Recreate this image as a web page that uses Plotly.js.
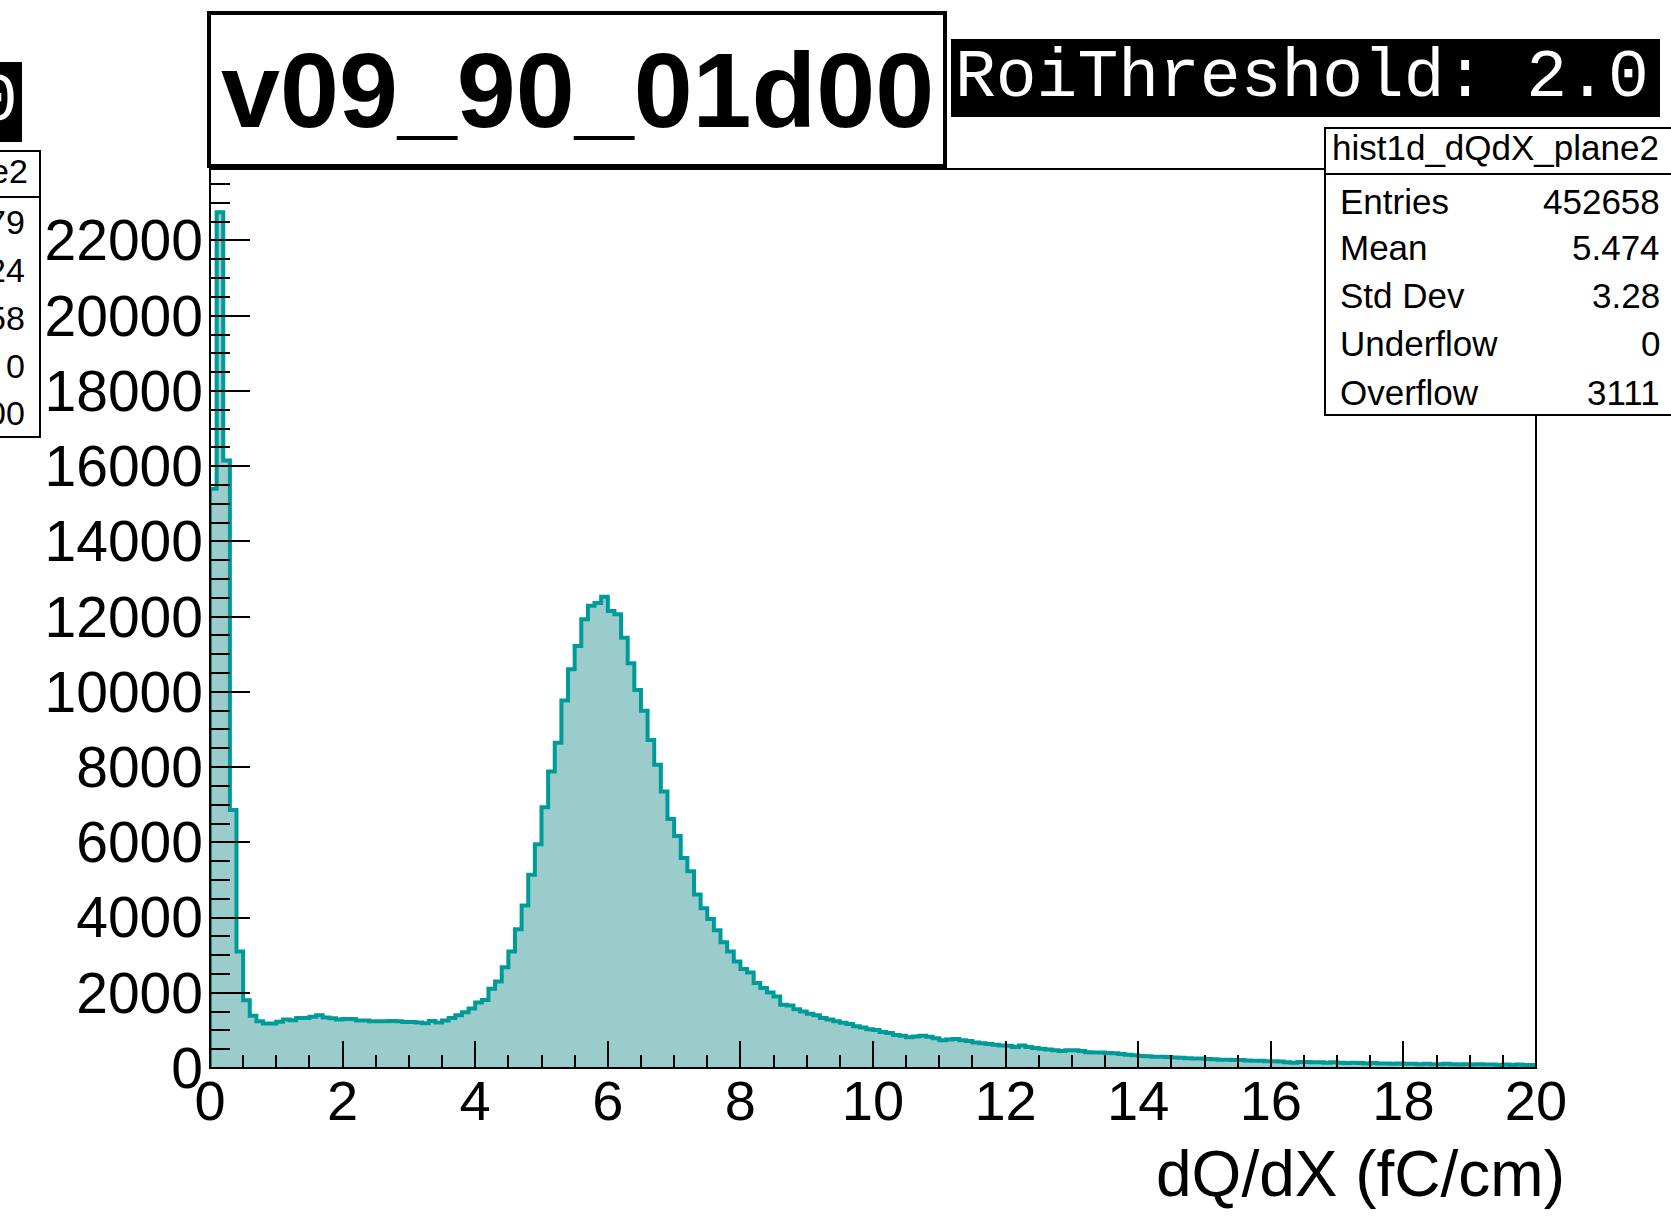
<!DOCTYPE html>
<html>
<head>
<meta charset="utf-8">
<script src="https://cdn.plot.ly/plotly-3.0.1.min.js"></script>
<style>html,body{margin:0;padding:0;background:#fff;}#plot{width:1671px;height:1217px;}</style>
</head>
<body>
<div id="plot"></div>
<script>
// ---- data ----
const histName = "hist1d_dQdX_plane2";
const runTag = "v09_90_01d00";
const thresholdLabel = "RoiThreshold: 2.0";
const xTitle = "dQ/dX (fC/cm)";
const xMin = 0;
const xMax = 20;
const counts = [
  15400, 22750, 16150, 6860, 3100, 1800, 1390, 1240, 1180, 1180,
  1230, 1290, 1270, 1330, 1330, 1360, 1400, 1340, 1320, 1290,
  1300, 1300, 1260, 1260, 1240, 1240, 1240, 1250, 1240, 1220,
  1220, 1210, 1190, 1250, 1210, 1260, 1330, 1400, 1480, 1580,
  1740, 1810, 2110, 2300, 2680, 3100, 3690, 4320, 5140, 5950,
  6930, 7880, 8650, 9770, 10600, 11220, 11930, 12290, 12360, 12530,
  12150, 12060, 11440, 10760, 10050, 9500, 8720, 8060, 7350, 6620,
  6170, 5580, 5230, 4610, 4250, 3960, 3660, 3340, 3100, 2830,
  2630, 2540, 2260, 2130, 2010, 1900, 1680, 1660, 1560, 1500,
  1440, 1400, 1330, 1290, 1240, 1200, 1170, 1110, 1080, 1030,
  1010, 960, 930, 880, 860, 820, 840, 860, 830, 790,
  740, 760, 770, 740, 720, 680, 660, 640, 620, 600,
  590, 560, 600, 560, 530, 510, 490, 470, 450, 470,
  470, 450, 420, 410, 410, 400, 390, 370, 350, 340,
  320, 310, 300, 300, 290, 280, 270, 260, 250, 250,
  240, 230, 220, 220, 210, 210, 200, 190, 190, 180,
  180, 170, 150, 140, 160, 160, 150, 150, 140, 150,
  140, 130, 140, 130, 120, 130, 120, 120, 110, 120,
  110, 110, 100, 110, 100, 100, 110, 100, 90, 100,
  90, 100, 90, 90, 80, 90, 80, 90, 80, 80
];
const statNames = ["Entries", "Mean", "Std Dev", "Underflow", "Overflow"];
const statValues = ["452658", "5.474", "3.28", "0", "3111"];
const leftPadValues = ["79", "24", "58", "0", "00"];
const leftPadHeader = "e2";
const leftPadBoxText = "0";
const yMax = 23900;

// ---- build step histogram from bins ----
const nBins = counts.length;
const bw = (xMax - xMin) / nBins;
const xs = [xMin], ys = [0];
for (let i = 0; i < nBins; i++) { xs.push(xMin + i * bw); ys.push(counts[i]); }
xs.push(xMax); ys.push(counts[nBins - 1]);
xs.push(xMax); ys.push(0);

// ---- pixel -> paper helpers (layout only) ----
const L = 210, R = 1536, T = 169, B = 1068;
const px = x => (x - L) / (R - L);
const py = y => (B - y) / (B - T);

const SANS = "Liberation Sans, Arial, sans-serif";
const MONO = "Liberation Mono, Courier New, monospace";

const trace = {
  type: "scatter", mode: "lines", x: xs, y: ys,
  line: {shape: "hv", color: "#009B98", width: 4},
  fill: "tozeroy", fillcolor: "#9BCCCC",
  hoverinfo: "skip"
};

const shapes = [
  {type: "rect", xref: "paper", yref: "paper", x0: 0, x1: 1, y0: 0, y1: 1, line: {color: "black", width: 2}, layer: "above"},
  {type: "rect", xref: "paper", yref: "paper", x0: px(209), x1: px(945), y0: py(13), y1: py(166), fillcolor: "white", line: {color: "black", width: 4}, layer: "above"},
  {type: "rect", xref: "paper", yref: "paper", x0: px(951), x1: px(1660), y0: py(39), y1: py(117), fillcolor: "black", line: {width: 0}, layer: "above"},
  {type: "rect", xref: "paper", yref: "paper", x0: px(1325), x1: px(1720), y0: py(128), y1: py(415), fillcolor: "white", line: {color: "black", width: 2}, layer: "above"},
  {type: "line", xref: "paper", yref: "paper", x0: px(1325), x1: px(1720), y0: py(174), y1: py(174), line: {color: "black", width: 2}, layer: "above"},
  {type: "rect", xref: "paper", yref: "paper", x0: px(-60), x1: px(40), y0: py(151), y1: py(437), fillcolor: "white", line: {color: "black", width: 2}, layer: "above"},
  {type: "line", xref: "paper", yref: "paper", x0: px(-60), x1: px(40), y0: py(197), y1: py(197), line: {color: "black", width: 2}, layer: "above"},
  {type: "rect", xref: "paper", yref: "paper", x0: px(-60), x1: px(22), y0: py(62), y1: py(142), fillcolor: "black", line: {width: 0}, layer: "above"}
];

const ann = (text, x, y, xanchor, size, family, color) => ({
  text, x: px(x), y: py(y), xref: "paper", yref: "paper", xanchor, yanchor: "middle",
  showarrow: false, font: {family, size, color: color || "black"}
});

const annotations = [
  ann("<b>" + runTag + "</b>", 577, 90, "center", 106, SANS),
  ann(thresholdLabel, 953, 78, "left", 68, MONO, "white"),
  ann(leftPadBoxText, 20, 102, "right", 68, MONO, "white"),
  ann(histName, 1495, 148, "center", 35, SANS),
  ann(leftPadHeader, 30, 171, "right", 34, SANS),
  ann(xTitle, 1567, 1174, "right", 64, SANS)
];
const rowY = [201, 247, 295, 343, 392];
statNames.forEach((n, i) => {
  annotations.push(ann(n, 1338, rowY[i], "left", 35, SANS));
  annotations.push(ann(statValues[i], 1662, rowY[i], "right", 35, SANS));
});
const leftRowY = [222, 270, 318, 366, 413];
leftPadValues.forEach((v, i) => annotations.push(ann(v, 27, leftRowY[i], "right", 34, SANS)));

const layout = {
  width: 1671, height: 1217,
  margin: {l: L, r: 1671 - R, t: T, b: 1217 - B, pad: 0},
  paper_bgcolor: "white", plot_bgcolor: "white",
  showlegend: false,
  xaxis: {
    range: [xMin, xMax], dtick: 2, tick0: 0, ticks: "inside", ticklen: 27, tickwidth: 2, tickcolor: "black",
    minor: {dtick: 0.5, ticks: "inside", ticklen: 13, tickwidth: 2, tickcolor: "black", showgrid: false},
    showline: false, showgrid: false, zeroline: false,
    tickfont: {family: SANS, size: 56, color: "black"}, ticklabelstandoff: -5
  },
  yaxis: {
    range: [0, yMax], dtick: 2000, tick0: 0, ticks: "inside", ticklen: 40, tickwidth: 2, tickcolor: "black",
    minor: {dtick: 500, ticks: "inside", ticklen: 20, tickwidth: 2, tickcolor: "black", showgrid: false},
    showline: false, showgrid: false, zeroline: false, tickformat: "d",
    tickfont: {family: SANS, size: 57, color: "black"}, ticklabelstandoff: 6
  },
  shapes, annotations
};

Plotly.newPlot("plot", [trace], layout, {displayModeBar: false, staticPlot: true});
</script>
</body>
</html>
